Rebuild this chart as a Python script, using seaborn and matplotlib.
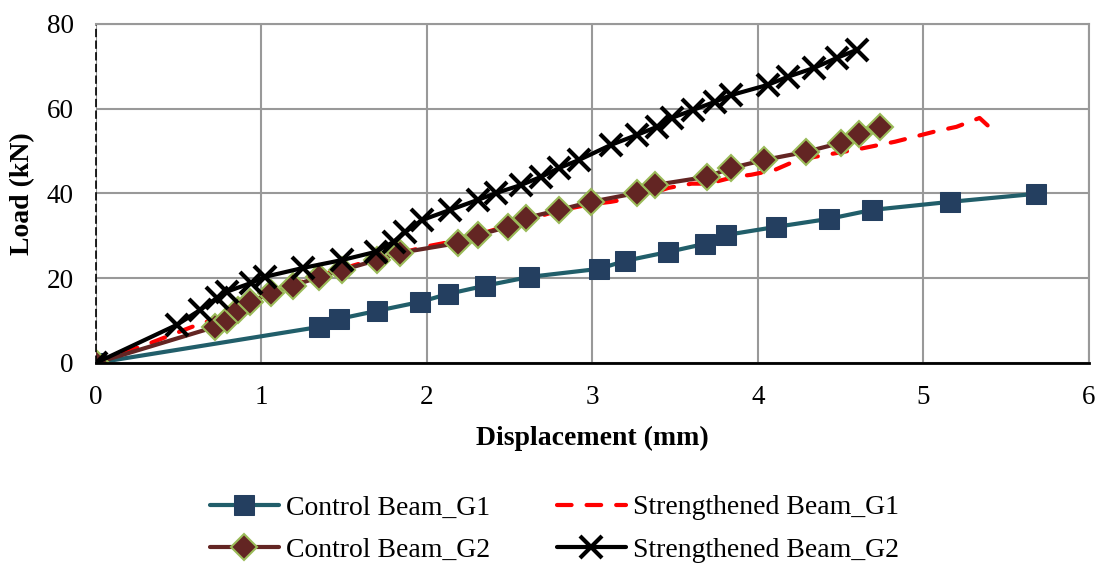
import numpy as np
import pandas as pd
import matplotlib
matplotlib.use("Agg")
import matplotlib.pyplot as plt
import seaborn as sns

# load-displacement readings (mm, kN)
cg1_x = [0, 1.35, 1.47, 1.70, 1.96, 2.13, 2.35, 2.62, 3.04, 3.20, 3.46, 3.68, 3.81, 4.11, 4.43, 4.69, 5.16, 5.68]
cg1_y = [0, 8.5, 10.4, 12.3, 14.4, 16.3, 18.2, 20.3, 22.2, 24.1, 26.2, 28.1, 30.2, 32.1, 34.0, 36.1, 38.0, 39.9]

sg1_x = [0, 0.33, 0.58, 0.75, 1.0, 1.3, 1.6, 2.0, 2.2, 2.5, 2.8, 3.0, 3.11, 3.3, 3.46, 3.6, 3.7,
         3.86, 3.96, 4.1, 4.2, 4.34, 4.59, 4.83, 5.08, 5.2, 5.34, 5.39]
sg1_y = [0, 4.7, 8.5, 10.8, 15.5, 20, 23.5, 27.5, 29, 32.5, 36, 37.5, 38, 39.3, 41.3, 42.3, 42.3,
         43.9, 44.4, 45.5, 47.2, 48.6, 50.3, 52.2, 54.7, 55.7, 57.8, 56]

cg2_x = [0, 0.72, 0.79, 0.86, 0.93, 1.06, 1.19, 1.35, 1.49, 1.70, 1.84, 2.19, 2.31, 2.49, 2.60,
         2.80, 2.99, 3.27, 3.38, 3.69, 3.84, 4.04, 4.29, 4.50, 4.61, 4.74]
cg2_y = [0, 8.5, 10.1, 12.5, 14.4, 16.5, 18.2, 20.3, 21.9, 24.3, 26.0, 28.3, 30.2, 32.1, 34.2,
         36.1, 38.0, 40.1, 42.0, 43.9, 46.0, 47.9, 49.8, 51.9, 54.0, 55.7]

sg2_x = [0, 0.49, 0.63, 0.73, 0.79, 0.94, 1.02, 1.25, 1.49, 1.69, 1.80, 1.87, 1.97, 2.14, 2.31,
         2.42, 2.57, 2.69, 2.80, 2.92, 3.11, 3.27, 3.39, 3.48, 3.61, 3.74, 3.84, 4.06, 4.18,
         4.34, 4.48, 4.60]
sg2_y = [0, 9.0, 12.5, 15.3, 16.8, 18.9, 20.3, 22.4, 24.3, 26.2, 28.6, 30.9, 33.7, 36.1, 38.5,
         40.1, 42.0, 43.9, 46.0, 47.9, 51.4, 53.8, 55.7, 57.8, 59.7, 61.6, 63.2, 65.6, 67.5,
         69.6, 72.0, 73.9]

labels = ["Control Beam_G1", "Strengthened Beam_G1", "Control Beam_G2", "Strengthened Beam_G2"]

sns.set_style("white")
plt.rcParams['font.family'] = ['Liberation Serif', 'DejaVu Serif']
plt.rcParams['text.color'] = 'black'
plt.rcParams['axes.labelcolor'] = 'black'
plt.rcParams['xtick.color'] = 'black'
plt.rcParams['ytick.color'] = 'black'

fig, ax = plt.subplots(figsize=(11.02, 5.68), dpi=100)
fig.subplots_adjust(left=0.087, right=0.988, top=0.958, bottom=0.361)

grid_c = "#999999"
ax.grid(True, color=grid_c, linewidth=1.5)
ax.set_axisbelow(True)

lw = 3
sns.lineplot(x=cg1_x, y=cg1_y, sort=False, ax=ax, color="#215E6A", linewidth=lw,
             marker="s", markersize=14, markerfacecolor="#243F60",
             markeredgecolor="#243F60", label=labels[0])
sns.lineplot(x=sg1_x, y=sg1_y, sort=False, ax=ax, color="#FF0000", linewidth=lw,
             linestyle=(0, (3.5, 3.6)), dash_capstyle="round", label=labels[1])
sns.lineplot(x=cg2_x, y=cg2_y, sort=False, ax=ax, color="#632523", linewidth=lw,
             marker="D", markersize=13, markerfacecolor="#632523",
             markeredgecolor="#9BBB59", markeredgewidth=1.5, label=labels[2])
sns.lineplot(x=sg2_x, y=sg2_y, sort=False, ax=ax, color="black", linewidth=lw,
             marker="x", markersize=16, markeredgewidth=3, markeredgecolor="black",
             label=labels[3])

ax.set_xlim(0, 6)
ax.set_ylim(0, 80)
ax.set_xticks(range(0, 7))
ax.set_yticks(range(0, 81, 20))
ax.tick_params(axis="both", length=0, labelsize=19.5, labelcolor="black")
ax.tick_params(axis="x", pad=16)
ax.tick_params(axis="y", pad=16)

ax.spines["left"].set_color("black")
ax.spines["left"].set_linewidth(1.2)
ax.spines["left"].set_linestyle((0, (4, 3)))
ax.spines["bottom"].set_color("black")
ax.spines["bottom"].set_linewidth(2)
ax.spines["right"].set_color(grid_c)
ax.spines["right"].set_linewidth(1.5)
ax.spines["top"].set_color(grid_c)
ax.spines["top"].set_linewidth(1.5)

ax.set_xlabel("Displacement (mm)", fontsize=20, fontweight="bold", labelpad=11, color="black")
ax.set_ylabel("Load (kN)", fontsize=20, fontweight="bold", labelpad=8, color="black")

handles, labs = ax.get_legend_handles_labels()
ax.get_legend().remove()
order = [0, 2, 1, 3]
fig.legend([handles[i] for i in order], [labs[i] for i in order], ncol=2,
           loc="center", bbox_to_anchor=(0.503, 0.069), frameon=False,
           fontsize=20, handlelength=2.5, handletextpad=0.25, columnspacing=2.4,
           labelspacing=0.6, numpoints=1, labelcolor="black")

fig.savefig("out.png", dpi=100)
